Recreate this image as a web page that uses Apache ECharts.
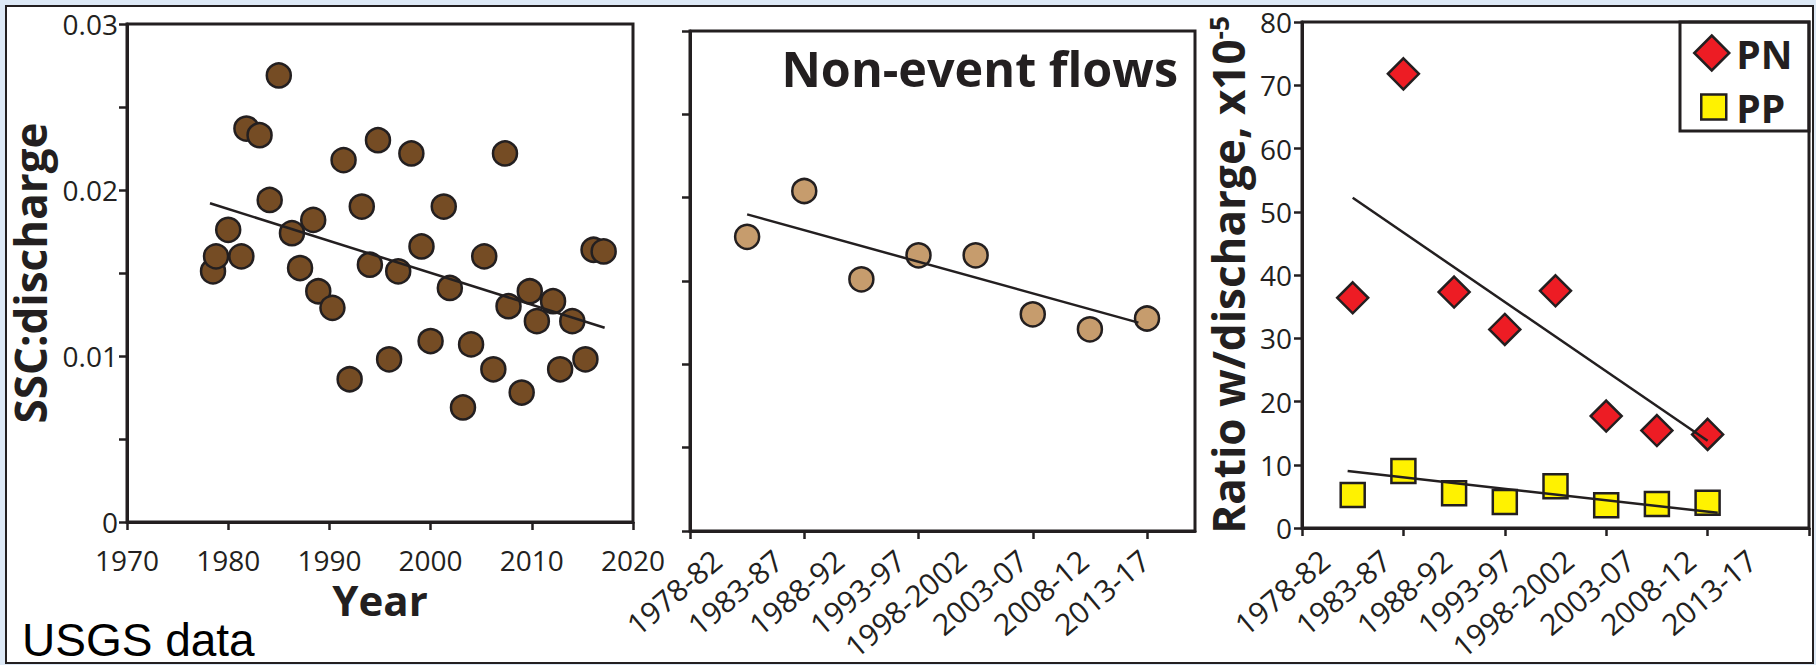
<!DOCTYPE html>
<html>
<head>
<meta charset="utf-8">
<script src="https://cdn.jsdelivr.net/npm/echarts@6/dist/echarts.min.js"></script>
<style>
  html, body { margin: 0; padding: 0; background: #dde9f6; }
  #chart { width: 1816px; height: 665px; }
</style>
</head>
<body>
<div id="chart"></div>
<script>
// ---- Annual suspended-sediment : discharge ratio (decimal year, ratio) ----
const annualYears = [
  1978.5, 1978.8, 1980.0, 1981.3, 1981.8, 1983.1, 1984.1, 1985.0, 1986.3, 1987.1,
  1988.4, 1988.9, 1990.3, 1991.4, 1992.0, 1993.2, 1994.0, 1994.8, 1995.9, 1996.8,
  1998.1, 1999.1, 2000.0, 2001.3, 2001.9, 2003.2, 2004.0, 2005.3, 2006.2, 2007.35,
  2007.7, 2009.0, 2009.8, 2010.5, 2012.1, 2012.8, 2014.0, 2015.3, 2016.1, 2017.1
];
const annualRatio = [
  0.0151, 0.0160, 0.0176, 0.0160, 0.0237, 0.0233, 0.0194, 0.0269, 0.0174, 0.0153,
  0.0182, 0.0139, 0.0129, 0.0218, 0.0086, 0.0190, 0.0155, 0.0230, 0.0098, 0.0151,
  0.0222, 0.0166, 0.0109, 0.0190, 0.0141, 0.0069, 0.0107, 0.0160, 0.0092, 0.0222,
  0.0130, 0.0078, 0.0139, 0.0121, 0.0133, 0.0092, 0.0121, 0.0098, 0.0164, 0.0163
];
const annualTrendYears = [1978.2, 2017.2];
const annualTrendRatio = [0.0192, 0.0117];

// ---- Five-year periods ----
const periods = ['1978-82', '1983-87', '1988-92', '1993-97', '1998-2002', '2003-07', '2008-12', '2013-17'];

// Non-event flows, SSC:discharge per period
const nonEventRatio = [0.01765, 0.0204, 0.0151, 0.01654, 0.01654, 0.0130, 0.0121, 0.01275];
const nonEventTrendIdx = [0, 6.85];
const nonEventTrendRatio = [0.0190, 0.0125];

// Particulate N and P ratio with discharge, x10^-5
const pnRatio = [36.4, 71.8, 37.3, 31.4, 37.5, 17.7, 15.4, 14.8];
const ppRatio = [5.2, 9.0, 5.5, 4.1, 6.6, 3.6, 3.8, 4.0];
const pnTrendIdx = [0, 7];
const pnTrendVal = [52.2, 13.8];
const ppTrendIdx = [-0.1, 7.2];
const ppTrendVal = [9.0, 2.4];

// ---- Tick labels ----
const sscTickLabels = ['0', '', '0.01', '', '0.02', '', '0.03'];
const yearTickLabels = ['1970', '1980', '1990', '2000', '2010', '2020'];
const periodTickIdx = [0, 2, 4, 6, 8];

const INK = '#231f20';
const FONT = '"Open Sans", sans-serif';

// periods are placed one slot in from the y axis: period i sits at i + 1
const pos = (i) => i + 1;

function valueAxis(extra) {
  return Object.assign({
    type: 'value',
    axisLine: { show: true, onZero: false, lineStyle: { color: INK, width: 3 } },
    axisTick: { show: true, inside: false, length: 8, lineStyle: { color: INK, width: 2.5 } },
    axisLabel: { show: true, color: INK, fontSize: 28, fontFamily: FONT },
    splitLine: { show: false },
    minorTick: { show: false },
    minorSplitLine: { show: false }
  }, extra);
}

function labelAxis(gridIndex, margin) {
  return {
    type: 'category', gridIndex, data: periods, boundaryGap: false,
    axisLine: { show: false }, axisTick: { show: false }, splitLine: { show: false },
    axisLabel: { interval: 0, rotate: 40, margin, color: INK, fontSize: 30, fontFamily: FONT }
  };
}

function legendText(padLeft) {
  return {
    color: INK, fontSize: 39, fontWeight: 'bold', fontFamily: FONT,
    rich: { t: { color: INK, fontSize: 39, fontWeight: 'bold', fontFamily: FONT, padding: [0, 0, 0, padLeft] } }
  };
}

const gridBox = { show: true, borderColor: INK, borderWidth: 3, backgroundColor: '#ffffff', outerBoundsMode: 'none', containLabel: false };

const chart = echarts.init(document.getElementById('chart'), null, { renderer: 'svg' });

chart.setOption({
  animation: false,
  backgroundColor: '#dde9f6',
  textStyle: { fontFamily: FONT },
  grid: [
    Object.assign({ left: 127, top: 24, width: 506, height: 498 }, gridBox),
    Object.assign({ left: 690, top: 31, width: 505, height: 500 }, gridBox),
    Object.assign({ left: 1302, top: 22, width: 507, height: 506 }, gridBox),
    { left: 717, top: 31, width: 428, height: 500, show: false, outerBoundsMode: 'none', containLabel: false },
    { left: 1325, top: 22, width: 427, height: 506, show: false, outerBoundsMode: 'none', containLabel: false }
  ],
  xAxis: [
    valueAxis({
      gridIndex: 0, min: 1970, max: 2020, interval: 10,
      axisLabel: {
        color: INK, fontSize: 28, fontFamily: FONT, margin: 24,
        formatter: (v) => yearTickLabels[Math.round((v - 1970) / 10)] || ''
      },
      name: 'Year', nameLocation: 'middle', nameGap: 55,
      nameTextStyle: { color: INK, fontSize: 42, fontWeight: 'bold', fontFamily: FONT }
    }),
    valueAxis({
      gridIndex: 1, min: 0, max: 8.84,
      axisTick: { show: true, inside: false, length: 8, customValues: periodTickIdx, lineStyle: { color: INK, width: 2.5 } },
      axisLabel: { show: false }
    }),
    valueAxis({
      gridIndex: 2, min: 0, max: 10, interval: 2,
      axisTick: { show: true, inside: false, length: 8, customValues: [0, 2, 4, 6, 8, 10], lineStyle: { color: INK, width: 2.5 } },
      axisLabel: { show: false }
    }),
    labelAxis(3, 25),
    labelAxis(4, 28)
  ],
  yAxis: [
    valueAxis({
      gridIndex: 0, min: 0, max: 0.03, interval: 0.005,
      axisLabel: {
        color: INK, fontSize: 28, fontFamily: FONT, margin: 9,
        formatter: (v) => sscTickLabels[Math.round(v / 0.005)] || ''
      },
      name: 'SSC:discharge', nameLocation: 'middle', nameRotate: 90, nameGap: 75,
      nameTextStyle: { color: INK, fontSize: 44, fontWeight: 'bold', fontFamily: FONT }
    }),
    valueAxis({
      gridIndex: 1, min: 0, max: 0.03, interval: 0.005,
      axisLabel: { show: false }
    }),
    valueAxis({
      gridIndex: 2, min: 0, max: 80, interval: 10,
      axisLabel: { color: INK, fontSize: 28, fontFamily: FONT, margin: 10 },
      name: '{m|Ratio w/discharge, x10}{s|-5}', nameLocation: 'middle', nameRotate: 90, nameGap: 52,
      nameTextStyle: {
        color: INK,
        rich: {
          m: { fontSize: 44, fontWeight: 'bold', fontFamily: FONT, color: INK },
          s: { fontSize: 26, fontWeight: 'bold', fontFamily: FONT, color: INK, verticalAlign: 'top' }
        }
      }
    }),
    { type: 'value', gridIndex: 3, show: false },
    { type: 'value', gridIndex: 4, show: false }
  ],
  legend: [
    {
      selectedMode: false, orient: 'vertical', left: 1693, top: 33.5, padding: 0,
      itemWidth: 35, itemHeight: 35,
      data: [{ name: 'PN', icon: 'diamond' }],
      formatter: (name) => '{t|' + name + '}',
      itemStyle: { borderColor: INK, borderWidth: 2.5 },
      textStyle: legendText(2)
    },
    {
      selectedMode: false, orient: 'vertical', left: 1700, top: 87.5, padding: 0,
      itemWidth: 25, itemHeight: 25,
      data: [{ name: 'PP', icon: 'rect' }],
      formatter: (name) => '{t|' + name + '}',
      itemStyle: { borderColor: INK, borderWidth: 2.5 },
      textStyle: legendText(5)
    }
  ],
  graphic: [
    {
      type: 'rect', z: -100, silent: true,
      shape: { x: 6, y: 6, width: 1807, height: 657 },
      style: { fill: '#ffffff', stroke: INK, lineWidth: 2 }
    },
    {
      type: 'rect', z: 100, silent: true,
      shape: { x: 1680, y: 22, width: 129, height: 109 },
      style: { fill: 'none', stroke: INK, lineWidth: 3 }
    },
    {
      type: 'text', z: 100, silent: true, x: 1178, y: 68,
      style: {
        text: 'Non-event flows', fill: INK,
        fontSize: 48.5, fontWeight: 'bold', fontFamily: FONT,
        align: 'right', verticalAlign: 'middle', textAlign: 'right', textVerticalAlign: 'middle'
      }
    },
    {
      type: 'text', z: 100, silent: true, x: 22, y: 640,
      style: {
        text: 'USGS data', fill: '#000000',
        fontSize: 46, fontFamily: '"Liberation Sans", Arial, sans-serif',
        align: 'left', verticalAlign: 'middle', textAlign: 'left', textVerticalAlign: 'middle'
      }
    }
  ],
  series: [
    {
      type: 'line', xAxisIndex: 0, yAxisIndex: 0, silent: true, symbol: 'none',
      data: annualTrendYears.map((x, i) => [x, annualTrendRatio[i]]),
      lineStyle: { color: INK, width: 2.5 }
    },
    {
      type: 'scatter', name: 'Annual', xAxisIndex: 0, yAxisIndex: 0, silent: true,
      symbol: 'circle', symbolSize: 24,
      data: annualYears.map((x, i) => [x, annualRatio[i]]),
      itemStyle: { color: '#754c24', borderColor: INK, borderWidth: 2.5, opacity: 1 }
    },
    {
      type: 'line', xAxisIndex: 1, yAxisIndex: 1, silent: true, symbol: 'none',
      data: nonEventTrendIdx.map((x, i) => [pos(x), nonEventTrendRatio[i]]),
      lineStyle: { color: INK, width: 2.5 }
    },
    {
      type: 'scatter', name: 'Non-event', xAxisIndex: 1, yAxisIndex: 1, silent: true,
      symbol: 'circle', symbolSize: 24,
      data: nonEventRatio.map((v, i) => [pos(i), v]),
      itemStyle: { color: '#c69c6d', borderColor: INK, borderWidth: 2.5, opacity: 1 }
    },
    {
      type: 'scatter', name: 'PN', xAxisIndex: 2, yAxisIndex: 2, silent: true,
      symbol: 'diamond', symbolSize: 31,
      data: pnRatio.map((v, i) => [pos(i), v]),
      itemStyle: { color: '#ed1c24', borderColor: INK, borderWidth: 2.5, opacity: 1 }
    },
    {
      type: 'scatter', name: 'PP', xAxisIndex: 2, yAxisIndex: 2, silent: true,
      symbol: 'rect', symbolSize: 24,
      data: ppRatio.map((v, i) => [pos(i), v]),
      itemStyle: { color: '#fff200', borderColor: INK, borderWidth: 2.5, opacity: 1 }
    },
    {
      type: 'line', xAxisIndex: 2, yAxisIndex: 2, silent: true, symbol: 'none',
      data: pnTrendIdx.map((x, i) => [pos(x), pnTrendVal[i]]),
      lineStyle: { color: INK, width: 2.5 }
    },
    {
      type: 'line', xAxisIndex: 2, yAxisIndex: 2, silent: true, symbol: 'none',
      data: ppTrendIdx.map((x, i) => [pos(x), ppTrendVal[i]]),
      lineStyle: { color: INK, width: 2.5 }
    }
  ]
});
</script>
</body>
</html>
